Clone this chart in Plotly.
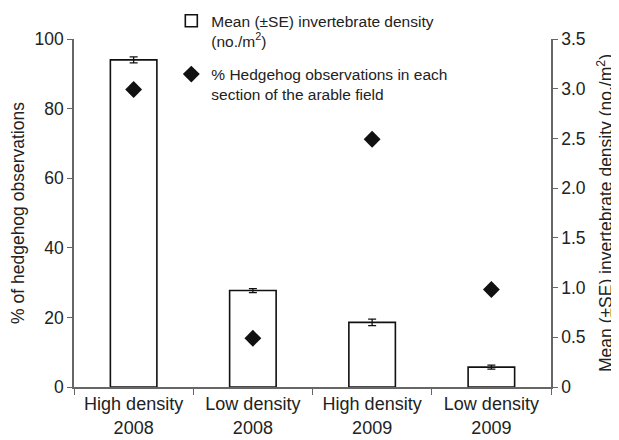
import plotly.graph_objects as go

# data
categories = ["High density<br>2008", "Low density<br>2008", "High density<br>2009", "Low density<br>2009"]
invert_density = [3.29, 0.97, 0.65, 0.20]       # mean no./m2 (right axis)
invert_se = [0.03, 0.02, 0.033, 0.02]
hedgehog_pct = [85.5, 14, 71.2, 28]              # % observations (left axis)

font = "Liberation Sans, Arial, sans-serif"
ink = "#222222"
axis_col = "#666666"

fig = go.Figure()

# bars go on the primary axis (drawn first, under the diamonds)
fig.add_trace(go.Bar(
    x=categories,
    y=invert_density,
    name="Mean (±SE) invertebrate density<br>(no./m<sup>2</sup>)",
    legendgroup="density",
    marker=dict(color="white", line=dict(color="#111111", width=1.6)),
    width=0.39,
    error_y=dict(type="data", array=invert_se, color="#111111", thickness=1.3, width=4),
    yaxis="y",
))

fig.add_trace(go.Scatter(
    x=categories,
    y=hedgehog_pct,
    mode="markers",
    name="% Hedgehog observations in each<br>section of the arable field",
    legendgroup="hedgehog",
    marker=dict(symbol="diamond", size=13, color="#111111"),
    yaxis="y2",
))

# page has an 8px body margin, so the figure is a bit smaller than the window
fig.update_layout(
    width=611, height=432,
    margin=dict(l=66, r=68, t=31, b=53, autoexpand=False),
    plot_bgcolor="white", paper_bgcolor="white",
    font=dict(family=font, size=17, color=ink),
    xaxis=dict(
        showline=True, linecolor=axis_col, linewidth=1.5,
        ticks="outside", tickson="boundaries", ticklen=6, tickcolor=axis_col,
        tickfont=dict(size=18, color=ink), automargin=False,
    ),
    yaxis=dict(
        side="right", range=[0, 3.5], automargin=False,
        tickvals=[0, 0.5, 1, 1.5, 2, 2.5, 3, 3.5],
        ticktext=["0", "0.5", "1.0", "1.5", "2.0", "2.5", "3.0", "3.5"],
        tickfont=dict(size=17.5),
        showline=True, linecolor=axis_col, linewidth=1.5,
        ticks="outside", ticklen=5, tickcolor=axis_col,
        showgrid=False, zeroline=False,
        title=dict(text="Mean (±SE) invertebrate density (no./m<sup>2</sup>)", standoff=15,
                   font=dict(size=17.5)),
    ),
    yaxis2=dict(
        side="left", overlaying="y", range=[0, 100], dtick=20, automargin=False,
        tickfont=dict(size=17.5),
        showline=True, linecolor=axis_col, linewidth=1.5,
        ticks="outside", ticklen=5, tickcolor=axis_col,
        showgrid=False, zeroline=False,
        title=dict(text="% of hedgehog observations", standoff=10, font=dict(size=17.5)),
    ),
    legend=dict(
        x=0.204, y=1.1, xanchor="left", yanchor="top",
        bgcolor="rgba(0,0,0,0)", valign="top",
        font=dict(size=15.5, color=ink), tracegroupgap=10,
    ),
)

fig.write_html("out.html")
